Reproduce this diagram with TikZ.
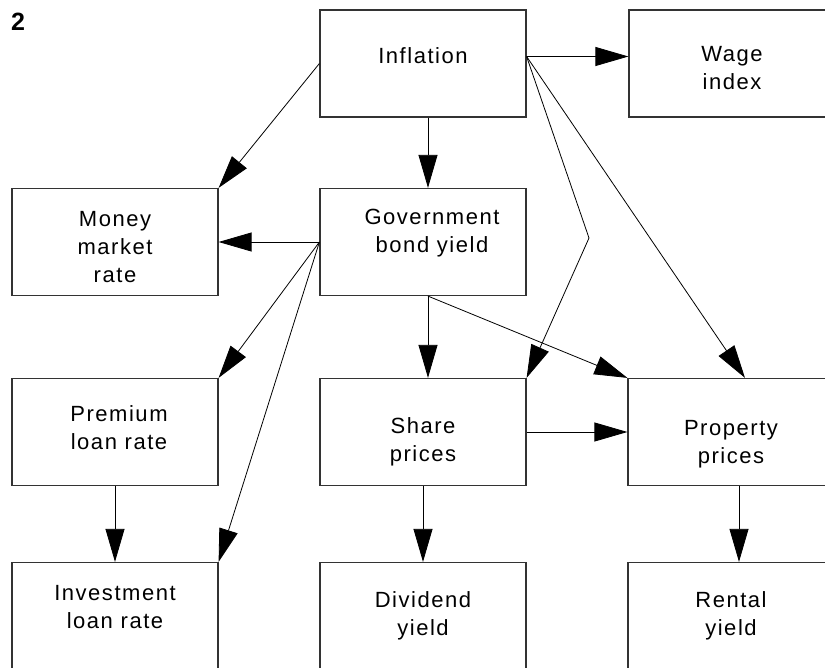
\documentclass[tikz,border=0pt]{standalone}
\usepackage{fontspec}
\setmainfont{Liberation Sans}[LetterSpace=7]
\usetikzlibrary{arrows.meta}

\begin{document}
\begin{tikzpicture}[x=1pt,y=-1pt,
		box/.style={draw=black!80,line width=1.2pt,minimum width=206pt,minimum height=107pt},
		txt/.style={align=center,font=\fontsize{22}{28}\selectfont,inner sep=0pt},
		link/.style={line width=0.8pt,-{Triangle[length=33pt,width=19pt]}}]
	\useasboundingbox (0,0) rectangle (825,668);
	\clip (0,0) rectangle (825,668);
	\node[font=\fontsize{25}{25}\bfseries] (num) at (18,22) {2};
	\node[box,label={[txt,yshift=8pt]center:Inflation}] (infl) at (423,63.5) {};
	\node[box,label={[txt,yshift=-5pt]center:Wage\\index}] (wage) at (732,63.5) {};
	\node[box,label={[txt,yshift=-5pt]center:Money\\market\\rate}] (money) at (115,242) {};
	\node[box,label={[txt,xshift=9pt,yshift=9pt]center:Government\\bond yield}] (bond) at (423,242) {};
	\node[box,label={[txt,xshift=4pt,yshift=4pt]center:Premium\\loan rate}] (prem) at (115,432) {};
	\node[box,label={[txt,yshift=-10pt]center:Share\\prices}] (share) at (423,432) {};
	\node[box,label={[txt,yshift=-12pt]center:Property\\prices}] (prop) at (731,432) {};
	\node[box,label={[txt,yshift=9pt]center:Investment\\loan rate}] (invest) at (115,616) {};
	\node[box,label={[txt]center:Dividend\\yield}] (divid) at (423,616) {};
	\node[box,label={[txt]center:Rental\\yield}] (rental) at (731,616) {};
	\coordinate (io) at ([yshift=7pt]infl.east);
	\coordinate (bend) at (589,238);
	\draw[link] (infl.west) -- (money.north east);
	\draw[link] ([xshift=5pt]infl.south) -- ([xshift=5pt]bond.north);
	\draw[link] (io) -- (io -| wage.west);
	\draw[link] (io) -- (bend) -- (share.north east);
	\draw[link] (io) -- ([xshift=14pt]prop.north);
	\draw[link] (bond.west) -- (money.east);
	\draw[link] (bond.west) -- (prem.north east);
	\draw[link] (bond.west) -- (invest.north east);
	\draw[link] ([xshift=5pt]bond.south) -- ([xshift=5pt]share.north);
	\draw[link] ([xshift=5pt]bond.south) -- (prop.north west);
	\draw[link] (share.east) -- (prop.west);
	\draw[link] (prem.south) -- (invest.north);
	\draw[link] (share.south) -- (divid.north);
	\draw[link] ([xshift=8pt]prop.south) -- ([xshift=8pt]rental.north);
\end{tikzpicture}
\end{document}
